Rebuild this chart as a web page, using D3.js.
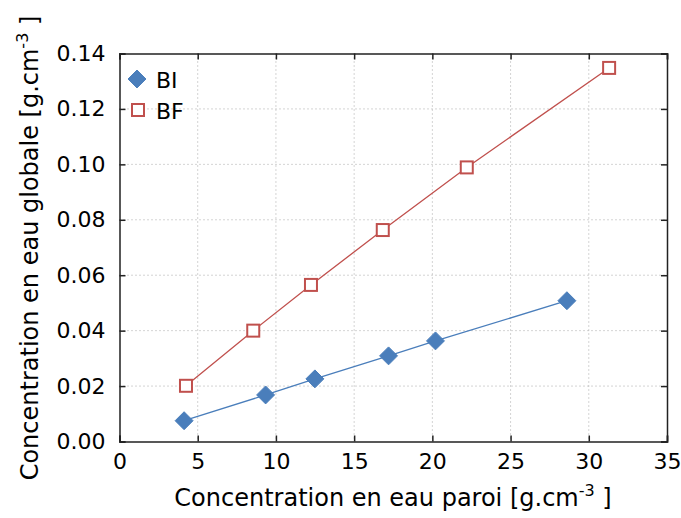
<!DOCTYPE html>
<html>
<head>
<meta charset="utf-8">
<script src="https://cdn.jsdelivr.net/npm/d3@7"></script>
<style>
  body { margin: 0; background: #fff; }
  svg text { font-family: "DejaVu Sans", sans-serif; fill: #000; }
</style>
</head>
<body>
<div id="chart"></div>
<script>
// data
const biX = [4.13, 9.34, 12.49, 17.2, 20.2, 28.6];
const biY = [0.0075, 0.0168, 0.0226, 0.0309, 0.0363, 0.0508];
const bfX = [4.25, 8.55, 12.24, 16.83, 22.2, 31.3];
const bfY = [0.0201, 0.0400, 0.0565, 0.0763, 0.0989, 0.1348];
const xTicks = [0, 5, 10, 15, 20, 25, 30, 35];
const yTicks = [0, 0.02, 0.04, 0.06, 0.08, 0.10, 0.12, 0.14];

const W = 681, H = 518;
const pLeft = 119.5, pRight = 667, pTop = 53.5, pBottom = 441.5;

const svg = d3.select("#chart").append("svg")
  .attr("width", W).attr("height", H);

const x = d3.scaleLinear().domain([0, 35]).range([pLeft, pRight]);
const y = d3.scaleLinear().domain([0, 0.14]).range([pBottom, pTop]);

// grid
const grid = svg.append("g");
grid.selectAll(".gx").data(xTicks.slice(1, -1)).enter().append("line")
  .attr("x1", d => x(d)).attr("x2", d => x(d))
  .attr("y1", pTop).attr("y2", pBottom)
  .attr("stroke", "#a8a8a8").attr("stroke-width", 1).attr("stroke-dasharray", "1,3");
grid.selectAll(".gy").data(yTicks.slice(1, -1)).enter().append("line")
  .attr("y1", d => y(d)).attr("y2", d => y(d))
  .attr("x1", pLeft).attr("x2", pRight)
  .attr("stroke", "#a8a8a8").attr("stroke-width", 1).attr("stroke-dasharray", "1,3");

// axes, ticks inside
svg.append("g").attr("transform", `translate(0,${pBottom})`)
  .call(d3.axisBottom(x).tickValues(xTicks).tickSize(-6).tickPadding(12).tickFormat(d3.format("d")));
svg.append("g").attr("transform", `translate(0,${pTop})`)
  .call(d3.axisTop(x).tickValues(xTicks).tickSize(-6).tickFormat(""));
svg.append("g").attr("transform", `translate(${pLeft},0)`)
  .call(d3.axisLeft(y).tickValues(yTicks).tickSize(-6).tickPadding(14).tickFormat(d3.format(".2f")));
svg.append("g").attr("transform", `translate(${pRight},0)`)
  .call(d3.axisRight(y).tickValues(yTicks).tickSize(-6).tickFormat(""));

svg.selectAll(".domain").attr("stroke", "#222").attr("stroke-width", 1.5);
svg.selectAll(".tick line").attr("stroke", "#222").attr("stroke-width", 1.5);
svg.selectAll(".tick text").style("font-size", "22px").attr("fill", "#111");

// series
const blue = "#4a7ebb", red = "#c0504d";
const line = d3.line().x(d => x(d[0])).y(d => y(d[1]));
const bi = biX.map((v, i) => [v, biY[i]]);
const bf = bfX.map((v, i) => [v, bfY[i]]);

svg.append("path").datum(bi).attr("d", line)
  .attr("fill", "none").attr("stroke", blue).attr("stroke-width", 1.3);
svg.append("path").datum(bf).attr("d", line)
  .attr("fill", "none").attr("stroke", red).attr("stroke-width", 1.3);

const diamond = d3.symbol().type(d3.symbolDiamond2).size(205);
svg.selectAll(".bi").data(bi).enter().append("path")
  .attr("d", diamond)
  .attr("transform", d => `translate(${x(d[0])},${y(d[1])})`)
  .attr("fill", blue).attr("stroke", blue).attr("stroke-width", 1);

svg.selectAll(".bf").data(bf).enter().append("rect")
  .attr("x", d => x(d[0]) - 6).attr("y", d => y(d[1]) - 6)
  .attr("width", 12).attr("height", 12)
  .attr("fill", "#fff").attr("stroke", red).attr("stroke-width", 2);

// legend
svg.append("path").attr("d", diamond)
  .attr("transform", "translate(137,79)")
  .attr("fill", blue).attr("stroke", blue);
svg.append("text").attr("x", 156).attr("y", 87.5).style("font-size", "22px").text("BI");
svg.append("rect").attr("x", 132).attr("y", 104).attr("width", 12).attr("height", 12)
  .attr("fill", "#fff").attr("stroke", red).attr("stroke-width", 2);
svg.append("text").attr("x", 156).attr("y", 119).style("font-size", "22px").text("BF");

// axis titles
const xt = svg.append("text").attr("x", 393).attr("y", 506)
  .attr("text-anchor", "middle").style("font-size", "24px");
xt.append("tspan").text("Concentration en eau paroi [g.cm");
xt.append("tspan").attr("dy", -10).style("font-size", "16px").text("-3");
xt.append("tspan").attr("dy", 10).text(" ]");

const yt = svg.append("text")
  .attr("transform", "translate(38,248) rotate(-90)")
  .attr("text-anchor", "middle").style("font-size", "24px");
yt.append("tspan").text("Concentration en eau globale [g.cm");
yt.append("tspan").attr("dy", -10).style("font-size", "16px").text("-3");
yt.append("tspan").attr("dy", 10).text(" ]");
</script>
</body>
</html>
